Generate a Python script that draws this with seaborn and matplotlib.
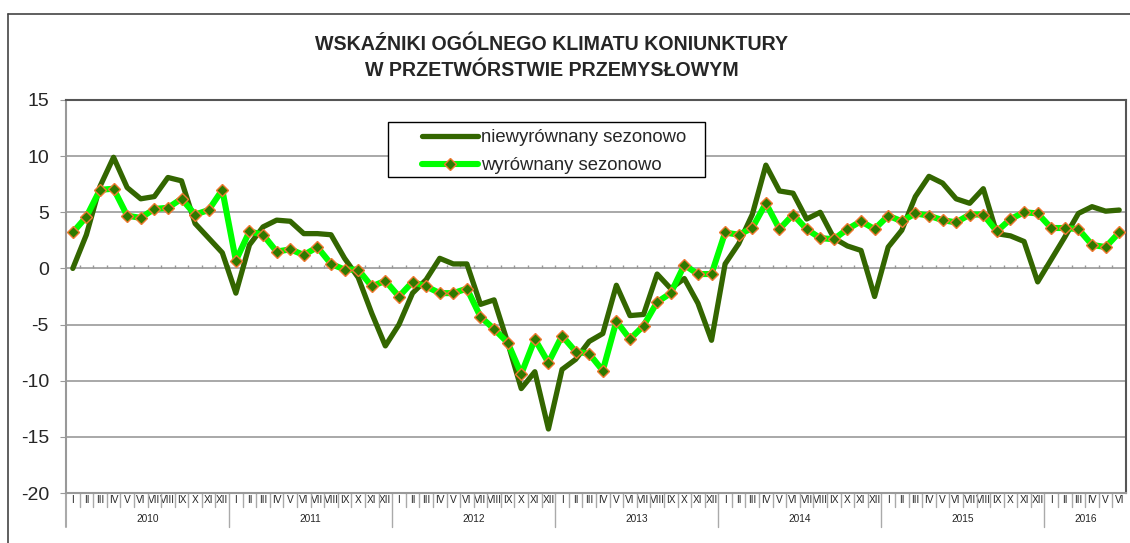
import numpy as np
import pandas as pd
import matplotlib
matplotlib.use('Agg')
import matplotlib.pyplot as plt
import seaborn as sns
from matplotlib.lines import Line2D
from matplotlib.patches import Rectangle

years = ['2010', '2011', '2012', '2013', '2014', '2015', '2016']
months = ['I', 'II', 'III', 'IV', 'V', 'VI', 'VII', 'VIII', 'IX', 'X', 'XI', 'XII']

# niewyrównany sezonowo
unadjusted = [0.0, 3.0, 7.3, 9.9, 7.2, 6.2, 6.4, 8.1, 7.8, 4.0, 2.7, 1.4,
              -2.2, 2.1, 3.7, 4.3, 4.2, 3.1, 3.1, 3.0, 0.9, -0.8, -4.0, -6.9,
              -5.0, -2.2, -1.0, 0.9, 0.4, 0.4, -3.2, -2.8, -6.6, -10.7, -9.2, -14.3,
              -9.0, -8.1, -6.5, -5.8, -1.5, -4.2, -4.1, -0.5, -1.8, -0.9, -3.1, -6.4,
              0.4, 2.2, 4.8, 9.2, 6.9, 6.7, 4.4, 5.0, 2.7, 2.0, 1.6, -2.5,
              1.9, 3.4, 6.4, 8.2, 7.6, 6.2, 5.8, 7.1, 3.1, 2.9, 2.4, -1.2,
              0.8, 2.8, 4.9, 5.5, 5.1, 5.2]

# wyrównany sezonowo
adjusted = [3.2, 4.6, 7.0, 7.1, 4.7, 4.5, 5.3, 5.4, 6.2, 4.8, 5.2, 7.0,
            0.7, 3.3, 3.0, 1.5, 1.7, 1.2, 1.9, 0.4, -0.1, -0.1, -1.6, -1.1,
            -2.5, -1.2, -1.6, -2.2, -2.2, -1.8, -4.3, -5.4, -6.6, -9.4, -6.3, -8.4,
            -6.0, -7.4, -7.6, -9.1, -4.7, -6.3, -5.1, -3.0, -2.2, 0.3, -0.5, -0.5,
            3.2, 3.0, 3.6, 5.8, 3.5, 4.8, 3.5, 2.7, 2.6, 3.5, 4.2, 3.5,
            4.7, 4.2, 4.9, 4.7, 4.3, 4.1, 4.8, 4.8, 3.3, 4.4, 5.0, 4.9,
            3.6, 3.6, 3.5, 2.1, 1.9, 3.2]

n = len(unadjusted)
labels = [months[i % 12] for i in range(n)]
df = pd.DataFrame({'idx': np.arange(n), 'niew': unadjusted, 'wyr': adjusted})

sns.set_style('white')
plt.rcParams['font.family'] = ['Liberation Sans', 'DejaVu Sans']
plt.rcParams['axes.unicode_minus'] = False

W, H = 1130, 543
fig = plt.figure(figsize=(W / 100, H / 100), dpi=100)
ax = fig.add_axes([66 / W, 1 - 493 / H, (1126 - 66) / W, (493 - 100) / H])

dark = '#336600'
lime = '#00FF00'
mface = '#2E7A00'
medge = '#F07830'

sns.lineplot(data=df, x='idx', y='niew', ax=ax, color=dark, lw=3.8, zorder=3)
sns.lineplot(data=df, x='idx', y='wyr', ax=ax, color=lime, lw=4.4, zorder=4,
             marker='D', markersize=6.3, markerfacecolor=mface,
             markeredgecolor=medge, markeredgewidth=1.0)

ax.set_xlim(-0.5, n - 0.5)
ax.set_ylim(-20, 15)
ax.set_yticks(range(-20, 16, 5))
ax.yaxis.grid(True, color='#999999', lw=1.2)
ax.set_axisbelow(True)
ax.set_xlabel('')
ax.set_ylabel('')

ax.set_xticks(range(n))
ax.set_xticklabels(labels, fontsize=7.3)
ax.tick_params(axis='x', length=0, pad=1.2)
ax.tick_params(axis='y', labelsize=14, length=4.3, color='#999999', pad=8, left=True)

for side in ['top', 'right']:
    ax.spines[side].set_color('#555555')
    ax.spines[side].set_linewidth(1.5)
for side in ['left', 'bottom']:
    ax.spines[side].set_color('#999999')
    ax.spines[side].set_linewidth(1.5)

# small ticks on the zero line
ax.vlines(np.arange(n - 1) + 0.5, 0, 0.28, color='#999999', lw=1, zorder=2)

# separators below the axis
xt = ax.get_xaxis_transform()
for i in range(n - 1):
    x = i + 0.5
    depth = -0.0865 if (i + 1) % 12 == 0 else -0.0356
    ax.plot([x, x], [0, depth], transform=xt, color='#aaaaaa', lw=1, clip_on=False)
ax.plot([-0.5, -0.5], [0, -0.0865], transform=xt, color='#aaaaaa', lw=1.5, clip_on=False)

for k, yr in enumerate(years):
    start = k * 12
    end = min(start + 12, n)
    ax.text((start + end - 1) / 2, -0.066, yr, transform=xt, ha='center', va='center', fontsize=7.3)

# title
fig.text(552 / W, 1 - 45 / H, 'WSKAŹNIKI OGÓLNEGO KLIMATU KONIUNKTURY', ha='center', va='center',
         fontsize=14.1, fontweight='bold')
fig.text(552 / W, 1 - 71 / H, 'W PRZETWÓRSTWIE PRZEMYSŁOWYM', ha='center', va='center',
         fontsize=14.1, fontweight='bold')

# outer frame
fig.add_artist(Line2D([8 / W, 8 / W], [0, 1 - 13.5 / H], color='#444444', lw=1.2))
fig.add_artist(Line2D([8 / W, 1], [1 - 13.5 / H, 1 - 13.5 / H], color='#444444', lw=1.2))

# legend
box = Rectangle((388 / W, 1 - 177 / H), 317 / W, 55 / H, transform=fig.transFigure,
                facecolor='white', edgecolor='black', lw=1, zorder=10)
fig.add_artist(box)
handles = [Line2D([], [], color=dark, lw=3.8, solid_capstyle='round'),
           Line2D([], [], color=lime, lw=4.4, solid_capstyle='round', marker='D', markersize=6.3,
                  markerfacecolor=mface, markeredgecolor=medge, markeredgewidth=1.0)]
leg = fig.legend(handles, ['niewyrównany sezonowo', 'wyrównany sezonowo'], loc='upper left',
                 bbox_to_anchor=(413 / W, 1 - 120 / H), frameon=False, fontsize=13.3,
                 handlelength=3.0, handletextpad=0.2, borderpad=0, labelspacing=0.6)
leg.set_zorder(11)

fig.savefig('out.png', dpi=100)
